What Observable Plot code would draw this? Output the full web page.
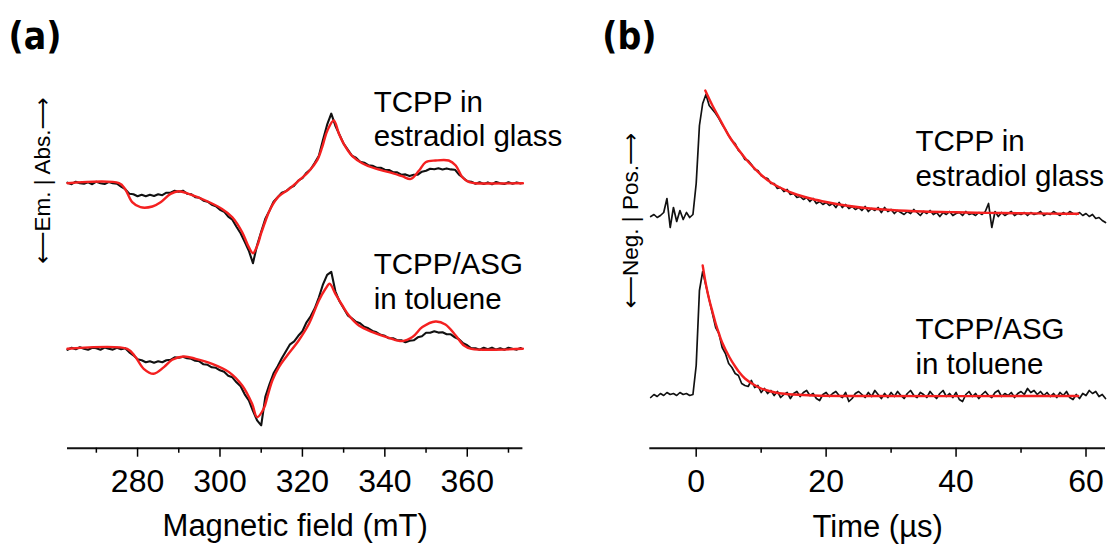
<!DOCTYPE html>
<html><head><meta charset="utf-8">
<script src="https://cdn.jsdelivr.net/npm/d3@7"></script>
<script src="https://cdn.jsdelivr.net/npm/@observablehq/plot@0.6"></script>
<style>
html,body{margin:0;padding:0;background:#fff;}
#wrap{position:relative;width:1107px;height:544px;overflow:hidden;background:#fff;}
#pa,#pb{position:absolute;top:0;}
#pa{left:0;width:580px;}
#pb{left:580px;width:527px;}
</style></head>
<body><div id="wrap"><div id="pa"></div><div id="pb"></div></div>
<script>
// ---------- Panel (a): EPR spectra ----------
const fieldExp = [
263,264,265,266,267,268,269,270,271,272,
273,274,275,276,277,278,279,280,281,282,
283,284,285,286,287,288,289,290,291,292,
293,294,295,296,297,298,299,300,301,302,
303,304,305,306,307,308,309,310,311,312,
313,314,315,316,317,318,319,320,321,322,
323,324,325,326,327,328,329,330,331,332,
333,334,335,336,337,338,339,340,341,342,
343,344,345,346,347,348,349,350,351,352,
353,354,355,356,357,358,359,360,361,362,
363,364,365,366,367,368,369,370,371,372,
373];
const eprGlassExp = [
0.5,-1,1.5,0,-0.5,1,-1,1.5,0,-0.8,
1.2,0,-0.5,-3.5,-6,-10.5,-11,-13,-11.5,-13,
-11.5,-12.8,-11,-12,-9.5,-9.5,-7.5,-8.5,-7.5,-10.5,
-11,-14,-14.5,-17.5,-18.5,-21.5,-23,-26.5,-28.5,-33.5,
-36.5,-43.5,-50,-58.5,-67.5,-80,-62,-48.5,-35.5,-27.5,
-18.5,-14,-9.5,-8,-4.5,-2.5,2.5,5,10.5,14,
20.5,27.5,43.5,58.5,69.5,57.5,48.5,39.5,33.5,27.5,
25.5,21.5,20.5,18,17.5,15.5,15.5,13.5,13.2,11,
10.8,8.5,8.8,7.3,8.5,8.5,11.5,12.5,14.5,14,
15,13.8,14.8,13.8,13.5,8.5,5.5,2,1.5,-0.5,
1,-0.8,0.8,-1,1.2,0,-0.8,1,-0.5,0.8,
-0.3];
const eprTolExp = [
-1,1,-0.5,1.5,0,-1,1,0.5,-1,1.2,
0,-0.8,1,-0.5,0.5,-3.5,-6.5,-10.5,-11.5,-13.5,
-12.5,-14,-12.5,-13.5,-11.5,-11,-8.5,-9,-8,-9.5,
-10,-12,-12.5,-15.5,-16,-18.5,-19,-21.5,-23,-27,
-28.5,-33.5,-37.5,-45.5,-51.5,-62,-71.5,-76.5,-48,-35.5,
-24.5,-17.5,-9.5,-2.5,4.5,7.5,13,17.5,26.5,32.5,
40.5,51.5,64.5,74,77,57.5,47.5,40.5,33.5,30.5,
27,25.5,22,20.5,17.8,16.5,14,13,10.5,10.5,
8.5,8.5,6.5,8,8.5,11.5,12.5,16,16,17.5,
16.2,16.5,14.5,14.5,11.5,9.5,5.5,3.5,0.5,0.5,
-1,1,-0.5,1.2,-0.8,0.5,-1,1,0,-0.8,
0.8];
const fieldFitGlass = [263,275.5,277,278.7,280.7,283.6,285.6,288,290,292.4,296.5,300.5,303,305.4,307,308,309,310,311.1,312.3,314.3,316.7,319.1,321.6,323.6,324.8,326,327.6,328.9,330.5,332.1,334.5,337.8,341,344.2,346.3,348.3,349.9,352.3,355.5,357.2,358.8,360.5,362,373.5];
const eprGlassFit = [0,0,-6,-19,-24,-23.3,-19,-10.7,-8,-10.7,-17.3,-25.7,-34,-49,-64,-70,-63,-50,-37,-25,-13,-6,2.5,12,23,36,52,62.7,49,36,27,20,14.5,11,7,4.3,12.7,21,22.7,22.7,17.7,6,1,0,0];
const fieldFitTol = [263,277.5,279.5,281.5,283.9,286.4,288.4,291.2,294.1,298.1,302.2,305.4,307.8,309,310.6,311.5,312.7,314.3,316.3,319.1,321.6,324,325.6,326.6,328,329.7,331.3,333.7,337,341,344.2,346.7,349.1,352.3,354.7,357.2,359.2,361,373.5];
const eprTolFit = [0,0,-8.3,-20,-25,-18.3,-11,-7.7,-10,-15,-23.3,-36.7,-55,-68.3,-60,-48,-31.7,-18.3,-6.7,8.3,25,48.3,60,65,55,43.3,33.3,23.3,16.7,11,7.7,11.7,21.7,27.3,24.3,13.3,3.3,0,0];
const offsetsA = [265, 99.4];           // vertical offsets of the two stacked spectra
const ticksA = [280,300,320,340,360];
const minorTicksA = [270,290,310,330,350,370];
const labelsA = [
  {text: "TCPP in", x: 337.3, y: 336.7},
  {text: "estradiol glass", x: 337.3, y: 302.7},
  {text: "TCPP/ASG", x: 337.3, y: 174.7},
  {text: "in toluene", x: 337.3, y: 139.7}
];

// ---------- Panel (b): transients ----------
const timeExp = [
-7,-6.5,-6,-5.5,-5,-4.5,-4,-3.5,-3,-2.5,
-2,-1.5,-1,-0.5,0,0.5,1,1.5,2,2.5,
3,3.5,4,4.5,5,5.5,6,6.5,7,7.5,
8,8.5,9,9.5,10,10.5,11,11.5,12,12.5,
13,13.5,14,14.5,15,15.5,16,16.5,17,17.5,
18,18.5,19,19.5,20,20.5,21,21.5,22,22.5,
23,23.5,24,24.5,25,25.5,26,26.5,27,27.5,
28,28.5,29,29.5,30,30.5,31,31.5,32,32.5,
33,33.5,34,34.5,35,35.5,36,36.5,37,37.5,
38,38.5,39,39.5,40,40.5,41,41.5,42,42.5,
43,43.5,44,44.5,45,45.5,46,46.5,47,47.5,
48,48.5,49,49.5,50,50.5,51,51.5,52,52.5,
53,53.5,54,54.5,55,55.5,56,56.5,57,57.5,
58,58.5,59,59.5,60,60.5,61,61.5,62,62.5,
63];
const trGlassExp = [
-1,1,-2,0,3,17,-12,8,-6,5,
-4,3,-2,1,32,90,112,121,110,106,
102,97,91,86,80,75,72,65,62,56,
55,51,46,45,40,38,37,32,32,27,
28,24,26,21,22,18,19,16,18,14,
17,12,14,11,13,10,12,8,13,8,
11,7,9,6,8,5,9,4,7,5,
8,3,8,4,6,2,5,3,1,4,
2,6,3,0,4,2,5,1,3,-1,
3,1,4,0,2,3,0,4,1,2,
0,3,1,4,12,-12,4,-1,3,0,
2,4,0,2,1,3,0,3,1,2,
4,0,2,1,4,2,0,3,1,4,
2,1,3,0,2,-1,1,-3,-2,-5,
-7];
const trTolExp = [
-2,1,-1,2,0,3,1,2,0,3,
1,2,0,1,30,105,124,110,96,82,
68,62,48,42,32,28,22,20,12,10,
9,15,8,10,3,7,2,5,0,4,
-2,1,3,-3,2,4,-1,3,5,0,
2,-3,-5,1,3,-1,2,4,0,-2,
3,-6,-3,2,4,1,-2,3,-1,5,
1,-3,2,-2,3,-1,4,0,-3,2,
5,0,-2,3,1,-2,4,0,-3,2,
5,-1,2,-2,3,-4,-6,1,4,-1,
2,-3,1,4,0,-2,3,5,-1,2,
0,3,-2,2,4,1,7,3,5,1,
4,0,3,-1,2,-2,3,0,4,-2,
-4,1,-3,2,0,5,2,4,-1,1,
-3];
const timeFitGlass = [1.4,2.5,3.5,5.1,6.5,7.7,9,10.2,11.5,12.8,15,17.9,20,23,26,30,35,40,45,50,55,58.8];
const trGlassFit = [125,110,98,79,66,56,47,39.5,33,28.3,22,16.5,13.5,10,7.5,5.5,4,3.2,2.6,2.2,1.9,1.7];
const timeFitTol = [1.0,1.5,2.0,2.5,3.0,3.5,4.0,5.1,6.0,6.6,7.5,8.7,10,11.5,12.8,15,18,25,58.8];
const trTolFit = [130,111,96,84,72,62,53,38.5,29,23.5,17,11.5,7,4,2.3,1,0,-0.5,-0.5];
const offsetsB = [232.7, 52.7];
const ticksB = [0,20,40,60];
const minorTicksB = [10,30,50];
const labelsB = [
  {text: "TCPP in", x: 33.74, y: 297.7},
  {text: "estradiol glass", x: 33.74, y: 262.7},
  {text: "TCPP/ASG", x: 33.74, y: 109.4},
  {text: "in toluene", x: 33.74, y: 74.7}
];

// ---------- styling ----------
const FONT = "'Liberation Sans', Arial, Helvetica, sans-serif";
const BLACK = "#111";
const RED = "#f42020";
const style = {fontFamily: FONT, background: "transparent", overflow: "visible", color: "black"};

const pts = (xs, ys, off) => xs.map((x, i) => ({x, y: ys[i] + off}));

function panel({width, marginLeft, marginRight, xDomain, expX, exp, expWidth, fitX, fit, offsets,
                ticks, minor, labels, labelSize, tickSize, axisLabel, axisLabelSize, axisDy,
                yLabel, yLabelDx, yLabelDy, tag, tagDx}) {
  return Plot.plot({
    width, height: 544,
    marginLeft, marginRight, marginTop: 60, marginBottom: 96.3,
    x: {domain: xDomain},
    y: {domain: [0, 387.7], axis: null},
    style,
    marks: [
      Plot.ruleY([0], {stroke: BLACK, strokeWidth: 2}),
      Plot.axisX({anchor: "bottom", ticks, tickSize: 9, tickPadding: 11.6, fontSize: tickSize,
                  strokeWidth: 1.5, label: null, tickFormat: d => String(d)}),
      Plot.axisX({anchor: "bottom", ticks: minor, tickSize: 5, strokeWidth: 1.5,
                  label: null, tickFormat: () => ""}),
      ...exp.map((ys, k) => Plot.line(pts(expX, ys, offsets[k]),
            {x: "x", y: "y", stroke: BLACK, strokeWidth: expWidth, strokeLinejoin: "round"})),
      ...fit.map((ys, k) => Plot.line(pts(fitX[k], ys, offsets[k]),
            {x: "x", y: "y", stroke: RED, strokeWidth: 2.4, curve: "catmull-rom"})),
      Plot.text(labels, {x: "x", y: "y", text: "text", textAnchor: "start", lineAnchor: "bottom",
                         fontSize: labelSize, fill: "black"}),
      Plot.text([axisLabel], {frameAnchor: "bottom", dy: axisDy, lineAnchor: "bottom",
                              fontSize: axisLabelSize, fill: "black"}),
      Plot.text([yLabel], {frameAnchor: "top-left", dx: yLabelDx, dy: yLabelDy, rotate: -90,
                           textAnchor: "middle", lineAnchor: "middle", fontSize: 22.5, fill: "black",
                           fontFamily: "'Liberation Sans', 'DejaVu Sans', sans-serif"}),
      Plot.text([tag], {frameAnchor: "top-left", dx: tagDx, dy: -11.5, textAnchor: "start",
                        lineAnchor: "bottom", fontSize: 37, fontWeight: "bold",
                        fontFamily: "'DejaVu Sans Condensed', 'DejaVu Sans', sans-serif", fill: "black"})
    ]
  });
}

document.getElementById("pa").append(panel({
  width: 580, marginLeft: 67, marginRight: 57.6, xDomain: [263, 373.5],
  expX: fieldExp, exp: [eprGlassExp, eprTolExp], expWidth: 2.1,
  fitX: [fieldFitGlass, fieldFitTol], fit: [eprGlassFit, eprTolFit],
  offsets: offsetsA, ticks: ticksA, minor: minorTicksA, labels: labelsA, labelSize: 29.5,
  tickSize: 32, axisLabel: "Magnetic field (mT)", axisLabelSize: 31, axisDy: 87.3,
  yLabel: "\u27f5Em. | Abs.\u27f6", yLabelDx: -25, yLabelDy: 120, tag: "(a)", tagDx: -59
}));

document.getElementById("pb").append(panel({
  width: 527, marginLeft: 69.3, marginRight: 2, xDomain: [-7.14, 63.0],
  expX: timeExp, exp: [trGlassExp, trTolExp], expWidth: 1.7,
  fitX: [timeFitGlass, timeFitTol], fit: [trGlassFit, trTolFit],
  offsets: offsetsB, ticks: ticksB, minor: minorTicksB, labels: labelsB, labelSize: 29.5,
  tickSize: 32, axisLabel: "Time (\u00b5s)", axisLabelSize: 31, axisDy: 89,
  yLabel: "\u27f5Neg. | Pos.\u27f6", yLabelDx: -19.3, yLabelDy: 160, tag: "(b)", tagDx: -47.6
}));
</script>
</body></html>
